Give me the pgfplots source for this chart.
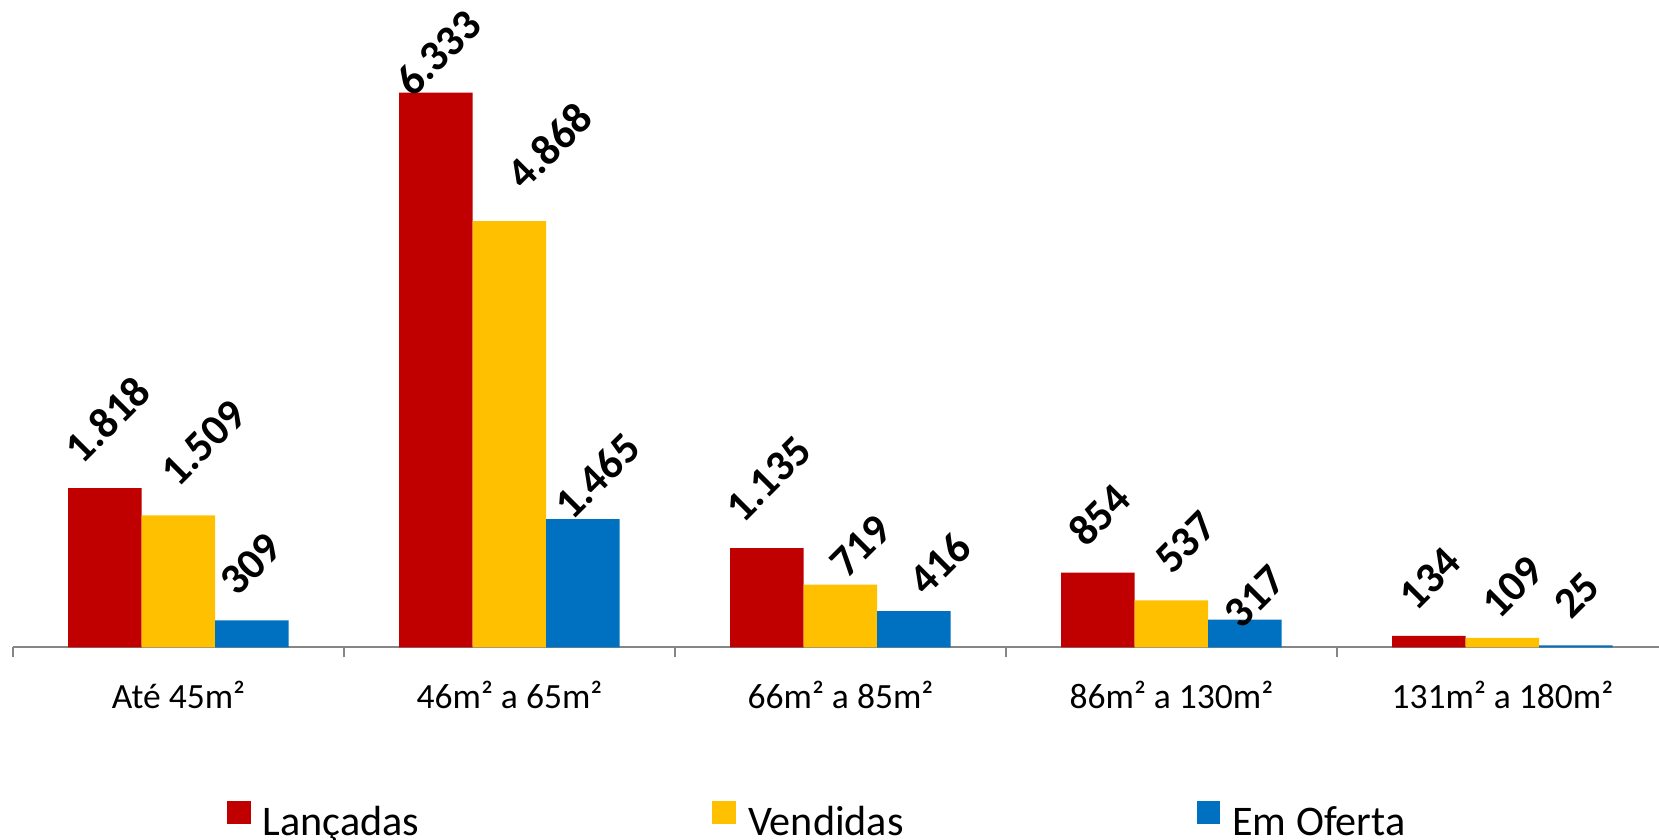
\documentclass[border=0pt]{standalone}
\usepackage{pgfplots}
\pgfplotsset{compat=1.18}
\usepackage{pgfplotstable}
\usepackage{fontspec}
\setmainfont{Carlito}
\definecolor{cRed}{HTML}{C00000}
\definecolor{cYel}{HTML}{FFC000}
\definecolor{cBlu}{HTML}{0070C0}
\definecolor{cAx}{HTML}{868686}
\pgfplotsset{
  /pgfplots/ybar legend/.style={/pgfplots/legend image code/.code={\fill[##1] (0mm,0mm) rectangle (2.37mm,2.27mm);}},
  lbl/.style={
    nodes near coords,
    point meta=explicit symbolic,
    visualization depends on={\thisrow{dx}\as\dx},
    visualization depends on={\thisrow{dy}\as\dy},
    every node near coord/.append style={font=\fontsize{12.4}{14}\selectfont\bfseries, text=black, anchor=center, xshift=\dx*0.1mm, yshift=\dy*0.1mm, rotate=45, inner sep=0pt},
  },
}
\pgfplotstableread{
x y lab dx dy
0 1818 1.818 2.6 69
1 6333 6.333 2 40
2 1135 1.135 1.5 69
3 854 854 1 58
4 134 134 1 57
}\lanc
\pgfplotstableread{
x y lab dx dy
0 1509 1.509 25 72.5
1 4868 4.868 40 75
2 719 719 20 38.5
3 537 537 14 58
4 109 109 10 51
}\vend
\pgfplotstableread{
x y lab dx dy
0 309 309 -1 56
1 1465 1.465 14 43
2 416 416 26 47.5
3 317 317 10 23
4 25 25 1 50
}\ofer
\begin{document}
\begin{tikzpicture}
\useasboundingbox (0,0) rectangle (165.9mm,84mm);
\begin{axis}[
  at={(1.3mm,19.25mm)}, anchor=south west,
  scale only axis, width=164.6mm, height=64.75mm,
  ybar=0pt, bar width=7.35mm,
  xmin=-0.5, xmax=4.473, ymin=0, ymax=7392,
  axis x line=bottom, axis y line=none,
  x axis line style={-, draw=cAx, line width=0.2mm},
  xtick={0,1,2,3,4},
  xticklabels={Até 45m²,46m² a 65m²,66m² a 85m²,86m² a 130m²,131m² a 180m²},
  major x tick style={draw=none},
  minor xtick={-0.5,0.5,1.5,2.5,3.5},
  minor tick length=1mm, major tick length=0pt, tick align=outside,
  minor x tick style={draw=cAx, line width=0.2mm},
  xticklabel style={font=\fontsize{10.1}{12}\selectfont, anchor=base, yshift=-6.05mm, inner sep=0pt},
  clip=false,
  legend columns=3,
  legend style={draw=none, fill=none, inner sep=0pt, outer sep=0pt,
    at={(0.130,-0.2988)}, anchor=south west,
    font=\fontsize{12}{14.4}\selectfont, nodes={inner sep=0pt},
    /tikz/every odd column/.append style={column sep=1.2mm},
    /tikz/every even column/.append style={column sep=29.3mm}},
]
\addplot[fill=cRed, draw=none, lbl] table[x=x, y=y, meta=lab] {\lanc};
\addlegendentry{Lançadas}
\addplot[fill=cYel, draw=none, lbl] table[x=x, y=y, meta=lab] {\vend};
\addlegendentry{Vendidas}
\addplot[fill=cBlu, draw=none, lbl] table[x=x, y=y, meta=lab] {\ofer};
\addlegendentry{Em Oferta}
\end{axis}
\end{tikzpicture}
\end{document}
